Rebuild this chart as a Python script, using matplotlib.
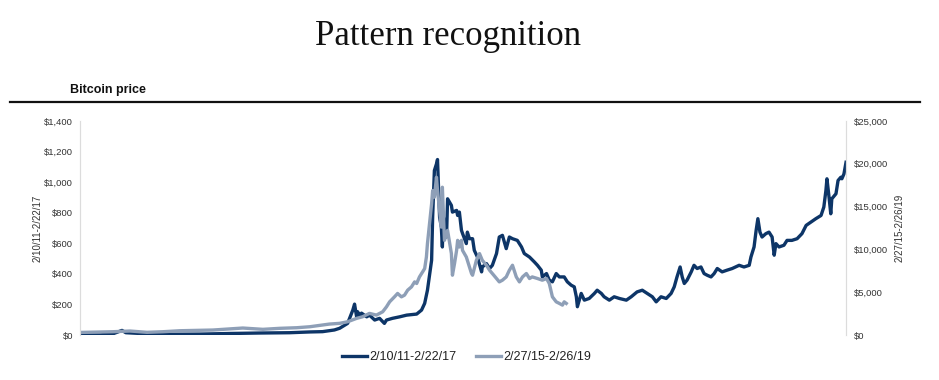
import matplotlib
matplotlib.use("Agg")
import matplotlib.pyplot as plt
from matplotlib.lines import Line2D
from matplotlib.ticker import FuncFormatter

NAVY = "#0d3567"; GREYBLUE = "#8e9fb7"; INK = "#333333"; SPINE = "#dcdcdc"

# 2/10/11-2/22/17, left axis (USD); x = days since start of window
dark_day = [0, 58, 95, 109, 121, 132, 173, 259, 345, 432, 518, 604, 662, 699, 733, 748, 771,
            786, 791, 797, 800, 806, 811, 826, 834, 849, 863, 877, 883, 900, 921, 941, 970,
            984, 993, 1001, 1013, 1016, 1021, 1027, 1030, 1036, 1041, 1044, 1047, 1056, 1059,
            1070, 1073, 1085, 1088, 1093, 1099, 1102, 1113, 1116, 1122, 1131, 1136, 1145, 1157,
            1159, 1171, 1180, 1188, 1200, 1208, 1217, 1228, 1237, 1246, 1260, 1272, 1280, 1295,
            1309, 1318, 1329, 1332, 1344, 1352, 1361, 1372, 1381, 1395, 1404, 1415, 1424, 1430,
            1433, 1444, 1453, 1467, 1482, 1490, 1502, 1510, 1525, 1539, 1554, 1574, 1588, 1605,
            1620, 1634, 1649, 1660, 1674, 1689, 1703, 1712, 1720, 1729, 1735, 1741, 1749, 1761,
            1769, 1778, 1789, 1798, 1807, 1818, 1827, 1836, 1850, 1864, 1879, 1899, 1913, 1928,
            1933, 1942, 1948, 1953, 1959, 1965, 1976, 1985, 1994, 2000, 2005, 2014, 2028, 2037,
            2051, 2066, 2080, 2092, 2106, 2120, 2135, 2143, 2149, 2152, 2158, 2163, 2166, 2178,
            2184, 2192, 2195, 2201, 2207]
dark_usd = [1, 1, 8, 20, 30, 15, 10, 5, 6, 10, 13, 15, 20, 22, 33, 44, 76,
            163, 202, 119, 152, 124, 143, 119, 130, 98, 109, 76, 98, 109, 119, 130, 137,
            163, 207, 293, 489, 771, 1076, 1119, 1148, 771, 706, 576, 771, 641, 891,
            848, 804, 815, 782, 804, 685, 665, 598, 673, 630, 630, 554, 510, 413,
            445, 467, 435, 456, 533, 641, 652, 565, 641, 630, 619, 576, 533, 510,
            478, 456, 424, 380, 402, 359, 348, 402, 380, 380, 348, 326, 315, 250,
            185, 272, 228, 239, 272, 293, 272, 250, 228, 250, 239, 228, 250, 282,
            293, 272, 250, 217, 250, 239, 272, 315, 380, 445, 380, 337, 359, 413,
            456, 435, 445, 402, 391, 380, 402, 435, 413, 424, 435, 456, 445, 456,
            510, 576, 685, 761, 673, 641, 663, 673, 641, 522, 598, 576, 587, 619,
            619, 630, 663, 717, 739, 761, 782, 837, 945, 1022, 902, 793, 891, 924,
            1011, 1032, 1022, 1054, 1130]

# 2/27/15-2/26/19, right axis (USD)
grey_day = [0, 95, 144, 193, 239, 288, 383, 469, 527, 575, 624, 662, 719, 748, 771, 797,
            814, 834, 854, 872, 883, 892, 906, 915, 926, 935, 944, 955, 964, 970, 978, 987,
            993, 998, 1001, 1007, 1013, 1016, 1021, 1027, 1030, 1036, 1041, 1044, 1050, 1059,
            1070, 1073, 1079, 1085, 1088, 1093, 1099, 1102, 1113, 1122, 1128, 1131, 1142, 1151,
            1159, 1171, 1180, 1188, 1200, 1208, 1217, 1228, 1237, 1246, 1257, 1266, 1275, 1286,
            1295, 1303, 1318, 1332, 1344, 1352, 1361, 1372, 1381, 1390, 1395, 1401]
grey_usd = [300, 384, 466, 314, 384, 500, 582, 815, 663, 780, 850, 966, 1280, 1362, 1548, 1944,
            2130, 2526, 2328, 2712, 3294, 3876, 4458, 4854, 4458, 4656, 5238, 5622, 6204, 6018,
            6786, 7368, 7764, 9114, 10674, 13002, 15330, 16878, 16098, 18426, 16878, 14550,
            12606, 17262, 11058, 12222, 9510, 6984, 8346, 9894, 11058, 10278, 11058, 9894,
            9114, 7950, 7182, 6984, 8730, 9510, 8730, 8148, 7566, 7182, 6600, 6204, 6402,
            6786, 7566, 8148, 6786, 6204, 6786, 7182, 6600, 6786, 6600, 6402, 6600, 6018,
            4458, 3876, 3690, 3492, 3876, 3690]

left_ticks = [0, 200, 400, 600, 800, 1000, 1200, 1400]
right_ticks = [0, 5000, 10000, 15000, 20000, 25000]
labels = ["2/10/11-2/22/17", "2/27/15-2/26/19"]

plt.rcParams.update({"font.family": "Liberation Sans"})
fig = plt.figure(figsize=(9.39, 3.80), dpi=100)
fig.patch.set_facecolor("white")

fig.text(0.477, 0.905, "Pattern recognition", ha="center", va="center",
         fontsize=25, family="Liberation Serif", color="#111111")
fig.text(0.0745, 0.764, "Bitcoin price", ha="left", va="center",
         fontsize=9, fontweight="bold", color="#111111")
fig.add_artist(Line2D([0.011, 0.98], [0.732, 0.732], color="#111111", lw=1.6,
                      transform=fig.transFigure))

ax = fig.add_axes([0.0852, 0.1184, 0.8158, 0.5632])
ax2 = ax.twinx()

ax.plot(dark_day, dark_usd, color=NAVY, lw=2.4, solid_joinstyle="round")
ax2.plot(grey_day, grey_usd, color=GREYBLUE, lw=2.4, solid_joinstyle="round")

ax.set_xlim(0, max(dark_day))
ax.set_ylim(0, 1400)
ax2.set_ylim(0, 25000)
ax.set_yticks(left_ticks)
ax2.set_yticks(right_ticks)
ax.yaxis.set_major_formatter(FuncFormatter(lambda v, p: f"${v:,.0f}"))
ax2.yaxis.set_major_formatter(FuncFormatter(lambda v, p: f"${v:,.0f}"))
ax.set_xticks([])

for a in (ax, ax2):
    for s in ["top", "bottom"]:
        a.spines[s].set_visible(False)
    a.spines["left"].set_color(SPINE)
    a.spines["right"].set_color(SPINE)
    a.tick_params(axis="y", length=0, labelsize=6.8, labelcolor=INK)
ax.tick_params(axis="y", pad=5)
ax2.tick_params(axis="y", pad=6)

ax.set_ylabel(labels[0], fontsize=7, color=INK, labelpad=1)
ax2.set_ylabel(labels[1], fontsize=7, color=INK, rotation=90, labelpad=4)

handles = [Line2D([], [], color=NAVY, lw=2.4), Line2D([], [], color=GREYBLUE, lw=2.4)]
fig.legend(handles, labels, loc="center", bbox_to_anchor=(0.497, 0.06), ncol=2,
           frameon=False, fontsize=9, handlelength=2.0, handletextpad=0.15,
           columnspacing=1.6, labelcolor="#222222")

fig.savefig("out.png", dpi=100, facecolor="white")
